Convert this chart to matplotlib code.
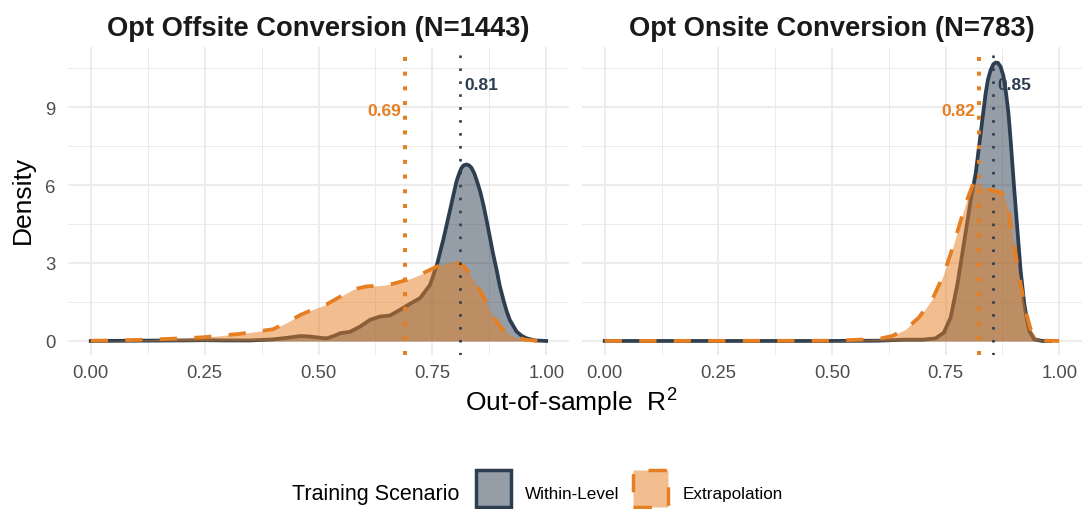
import matplotlib
matplotlib.use("Agg")
import matplotlib.pyplot as plt
from matplotlib.patches import Rectangle
from matplotlib.ticker import MultipleLocator, FixedLocator

plt.rcParams['font.family'] = ['Liberation Sans', 'DejaVu Sans']
plt.rcParams['mathtext.fontset'] = 'custom'
plt.rcParams['mathtext.rm'] = 'Liberation Sans'

# ---------------- data ----------------
panel_titles = ["Opt Offsite Conversion (N=1443)", "Opt Onsite Conversion (N=783)"]
series_names = ["Within-Level", "Extrapolation"]

# Left panel: Within-Level density
off_within_x = [0.00, 0.10, 0.20, 0.25, 0.30, 0.35, 0.40, 0.43, 0.46, 0.482, 0.50, 0.518,
                0.535, 0.548, 0.569, 0.591, 0.613, 0.635, 0.657, 0.679, 0.701, 0.723, 0.745,
                0.76, 0.774, 0.789, 0.796, 0.803, 0.809, 0.814, 0.819, 0.825, 0.831, 0.836,
                0.842, 0.847, 0.855, 0.862, 0.869, 0.876, 0.883, 0.891, 0.898,
                0.906, 0.913, 0.92, 0.935, 0.946, 0.957, 0.975, 1.00]
off_within_y = [0.00, 0.01, 0.02, 0.03, 0.02, 0.02, 0.06, 0.12, 0.19, 0.17, 0.13, 0.10,
                0.20, 0.30, 0.35, 0.55, 0.81, 0.94, 0.98, 1.20, 1.43, 1.65, 2.16,
                2.93, 3.90, 5.05, 5.60, 6.14, 6.45, 6.66, 6.76, 6.79, 6.75, 6.66,
                6.45, 6.20, 5.75, 5.24, 4.65, 4.02, 3.38, 2.74, 2.12,
                1.58, 1.15, 0.81, 0.36, 0.20, 0.10, 0.02, 0.00]
# Left panel: Extrapolation density
off_extra_x = [0.00, 0.05, 0.10, 0.17, 0.245, 0.325, 0.40, 0.43, 0.46, 0.489, 0.518, 0.548,
               0.577, 0.606, 0.635, 0.664, 0.694, 0.723, 0.752, 0.774, 0.785, 0.796, 0.807,
               0.818, 0.829, 0.84, 0.851, 0.862, 0.873, 0.884, 0.895, 0.906, 0.928, 0.957, 0.985]
off_extra_y = [0.01, 0.02, 0.04, 0.08, 0.14, 0.27, 0.45, 0.70, 1.00, 1.22, 1.41, 1.71,
               1.99, 2.10, 2.13, 2.20, 2.35, 2.55, 2.80, 2.97, 3.02, 3.03, 2.99,
               2.89, 2.65, 2.35, 2.04, 1.71, 1.32, 0.94, 0.65, 0.42, 0.17, 0.04, 0.00]
# Right panel: Within-Level density
on_within_x = [0.00, 0.50, 0.60, 0.66, 0.70, 0.728, 0.746, 0.761, 0.776, 0.79, 0.805, 0.816,
               0.827, 0.838, 0.843, 0.849, 0.855, 0.86, 0.865, 0.871, 0.877, 0.882, 0.888,
               0.893, 0.90, 0.908, 0.915, 0.923, 0.929, 0.934, 0.945, 0.963, 0.98]
on_within_y = [0.00, 0.00, 0.01, 0.05, 0.05, 0.10, 0.32, 0.90, 2.19, 3.73, 5.40, 6.43,
               7.98, 9.52, 10.05, 10.42, 10.65, 10.71, 10.70, 10.55, 10.20, 9.65, 8.80,
               7.72, 6.05, 4.25, 2.70, 1.42, 0.80, 0.39, 0.06, 0.00, 0.00]
# Right panel: Extrapolation density
on_extra_x = [0.00, 0.50, 0.546, 0.603, 0.632, 0.662, 0.691, 0.721, 0.743, 0.761, 0.779,
              0.794, 0.809, 0.815, 0.82, 0.827, 0.835, 0.853, 0.871, 0.877, 0.882, 0.888,
              0.893, 0.904, 0.915, 0.926, 0.937, 0.952, 0.97, 1.00]
on_extra_y = [0.00, 0.01, 0.04, 0.08, 0.19, 0.45, 0.90, 1.61, 2.45, 3.35, 4.38,
              5.28, 5.98, 6.08, 6.11, 6.03, 5.92, 5.79, 5.73, 5.62, 5.41, 5.02,
              4.50, 3.35, 2.19, 1.16, 0.45, 0.10, 0.01, 0.00]

# medians (Within-Level, Extrapolation) per panel
off_medians = [0.811, 0.690]
on_medians = [0.854, 0.824]

x_ticks = [0.00, 0.25, 0.50, 0.75, 1.00]
x_tick_labels = ["0.00", "0.25", "0.50", "0.75", "1.00"]
y_ticks = [0, 3, 6, 9]
y_tick_labels = ["0", "3", "6", "9"]

# ---------------- style ----------------
DARK = "#2C3E50"
ORANGE = "#E67E22"
GRID = "#EBEBEB"
W, H = 1083, 510

fig = plt.figure(figsize=(W / 100, H / 100), dpi=100)


def px(x0, y0, x1, y1):
    return [x0 / W, 1 - y1 / H, (x1 - x0) / W, (y1 - y0) / H]


ax1 = fig.add_axes(px(68, 48, 569, 356))
ax2 = fig.add_axes(px(582, 48, 1082, 356))

panels = [
    (ax1, panel_titles[0], off_within_x, off_within_y, off_extra_x, off_extra_y, off_medians),
    (ax2, panel_titles[1], on_within_x, on_within_y, on_extra_x, on_extra_y, on_medians),
]

for i, (ax, title, wx, wy, ex, ey, meds) in enumerate(panels):
    ax.set_xlim(-0.05, 1.05)
    ax.set_ylim(-0.54, 11.31)
    for s in ax.spines.values():
        s.set_visible(False)
    ax.set_axisbelow(True)
    ax.xaxis.set_major_locator(FixedLocator(x_ticks))
    ax.set_xticklabels(x_tick_labels)
    ax.yaxis.set_major_locator(FixedLocator(y_ticks))
    ax.set_yticklabels(y_tick_labels)
    ax.xaxis.set_minor_locator(MultipleLocator(0.125))
    ax.yaxis.set_minor_locator(FixedLocator([1.5, 4.5, 7.5, 10.5]))
    ax.grid(True, which="major", color=GRID, lw=1.3)
    ax.grid(True, which="minor", color=GRID, lw=0.7)
    ax.tick_params(which="both", length=0)
    ax.tick_params(axis="x", labelsize=13.3, labelcolor="#4D4D4D", pad=6.5)
    ax.tick_params(axis="y", labelsize=13.3, labelcolor="#4D4D4D", pad=9)
    if i == 1:
        ax.tick_params(axis="y", labelleft=False)

    # Within-Level
    ax.fill_between(wx, wy, 0, color=DARK, alpha=0.5, lw=0, zorder=2)
    ax.plot(wx, wy, color=DARK, lw=2.7, solid_joinstyle="round", zorder=2.1)
    # Extrapolation
    ax.fill_between(ex, ey, 0, color=ORANGE, alpha=0.5, lw=0, zorder=3)
    ax.plot(ex, ey, color=ORANGE, lw=2.7, linestyle=(0, (4.6, 4.6)), zorder=3.1)

    # median lines
    ax.axvline(meds[0], color=DARK, lw=1.9, linestyle=(0, (1, 3.9)), zorder=5)
    ax.axvline(meds[1], color=ORANGE, lw=2.9, linestyle=(0, (1, 2.65)), zorder=5)
    ax.annotate(f"{meds[0]:.2f}", xy=(meds[0], 9.87), xytext=(3, 0), textcoords="offset points",
                ha="left", va="center", fontsize=12.5, fontweight="bold", color=DARK, zorder=6)
    ax.annotate(f"{meds[1]:.2f}", xy=(meds[1], 8.86), xytext=(-3, 0), textcoords="offset points",
                ha="right", va="center", fontsize=12.5, fontweight="bold", color=ORANGE, zorder=6)

    ax.set_title(title, fontsize=19.7, fontweight="bold", color="#1A1A1A", pad=8.6)

# axis titles
fig.text(23 / W, 1 - 200 / H, "Density", rotation=90, ha="center", va="center", fontsize=19)
fig.text(571 / W, 1 - 412 / H, r"Out-of-sample  $\mathregular{R^2}$", ha="center", va="baseline",
         fontsize=19)

# legend (bottom)
fig.text(292 / W, 1 - 500 / H, "Training Scenario", ha="left", va="baseline", fontsize=15.5)
fig.add_artist(Rectangle((476 / W, 1 - 508 / H), 35 / W, 37 / H, transform=fig.transFigure,
                         facecolor=(0x2C / 255, 0x3E / 255, 0x50 / 255, 0.5), edgecolor=DARK, lw=2.5))
fig.text(525 / W, 1 - 499 / H, series_names[0], ha="left", va="baseline", fontsize=12.3)
fig.add_artist(Rectangle((633 / W, 1 - 508 / H), 35 / W, 37 / H, transform=fig.transFigure,
                         facecolor=(0xE6 / 255, 0x7E / 255, 0x22 / 255, 0.5), edgecolor=ORANGE,
                         lw=2.5, linestyle=(0, (5.3, 5.3))))
fig.text(683 / W, 1 - 499 / H, series_names[1], ha="left", va="baseline", fontsize=12.3)

fig.savefig("out.png", dpi=100)
